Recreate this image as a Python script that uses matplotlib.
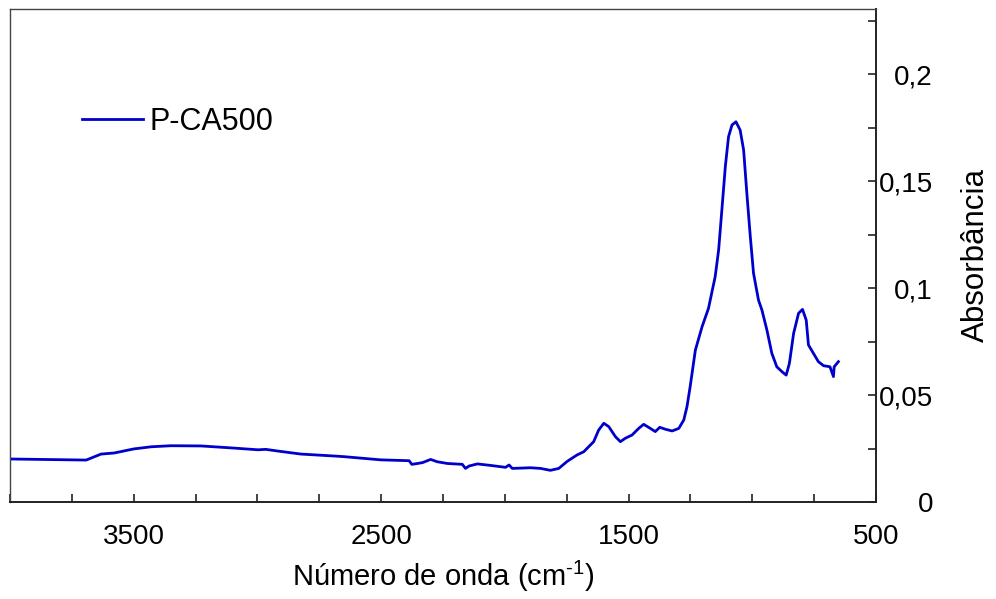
import matplotlib
matplotlib.use("Agg")
import matplotlib.pyplot as plt
from matplotlib.ticker import MultipleLocator

plt.rcParams['font.family'] = ['Liberation Sans', 'DejaVu Sans']
plt.rcParams['mathtext.fontset'] = 'custom'
plt.rcParams['mathtext.rm'] = 'Liberation Sans'
plt.rcParams['mathtext.default'] = 'regular'

# spectrum (wavenumber cm-1, absorbance)
wavenumber = [4000, 3692, 3632, 3579, 3500, 3430, 3349, 3228, 3095, 2998, 2966, 2917,
              2824, 2691, 2651, 2502, 2387, 2376, 2353, 2333, 2300, 2273, 2232, 2172,
              2159, 2145, 2111, 2058, 1997, 1983, 1970, 1896, 1856, 1816, 1782, 1748,
              1708, 1681, 1641, 1621, 1600, 1580, 1553, 1533, 1513, 1486, 1459, 1439,
              1412, 1392, 1374, 1351, 1324, 1297, 1277, 1264, 1251, 1230, 1203, 1177,
              1150, 1136, 1123, 1109, 1096, 1082, 1066, 1049, 1035, 1022, 1008, 995,
              975, 961, 941, 921, 901, 880, 863, 850, 833, 813, 797, 782, 773, 753,
              733, 712, 686, 672, 669, 652]
absorb = [0.0201, 0.0196, 0.0224, 0.0229, 0.0248, 0.0258, 0.0263, 0.0262, 0.0252, 0.0244,
          0.0246, 0.0238, 0.0224, 0.0215, 0.0212, 0.0197, 0.0193, 0.0176, 0.0180, 0.0184,
          0.0199, 0.0188, 0.0180, 0.0176, 0.0157, 0.0168, 0.0178, 0.0171, 0.0162, 0.0173,
          0.0157, 0.0160, 0.0157, 0.0148, 0.0157, 0.0190, 0.0220, 0.0235, 0.0282, 0.0336,
          0.0368, 0.0352, 0.0305, 0.0282, 0.0298, 0.0313, 0.0344, 0.0363, 0.0344, 0.0329,
          0.0349, 0.0340, 0.0332, 0.0344, 0.0383, 0.0445, 0.0540, 0.0710, 0.0819, 0.0905,
          0.1053, 0.1178, 0.1364, 0.1567, 0.1707, 0.1762, 0.1777, 0.1738, 0.1645, 0.1443,
          0.1240, 0.1069, 0.0944, 0.0897, 0.0804, 0.0695, 0.0632, 0.0609, 0.0593, 0.0648,
          0.0788, 0.0882, 0.0900, 0.0850, 0.0734, 0.0695, 0.0656, 0.0637, 0.0632, 0.0586,
          0.0632, 0.0656]
series_name = "P-CA500"
x_major = [3500, 2500, 1500, 500]
y_major = [0, 0.05, 0.1, 0.15, 0.2]
y_labels = ["0", "0,05", "0,1", "0,15", "0,2"]

fig = plt.figure(figsize=(9.96, 5.99), dpi=100)
ax = fig.add_axes([10/996, 1-502/599, 866/996, 493/599])

ax.plot(wavenumber, absorb, color='#0000CC', lw=2.0, label=series_name)

ax.set_xlim(4000, 500)
ax.set_ylim(0, 0.2304)

ax.set_xticks(x_major)
ax.xaxis.set_minor_locator(MultipleLocator(250))
ax.set_yticks(y_major)
ax.set_yticklabels(y_labels)
ax.yaxis.set_minor_locator(MultipleLocator(0.025))

ax.yaxis.tick_right()
ax.yaxis.set_label_position('right')
ax.tick_params(axis='both', which='both', direction='in', length=6, width=1.2, color='#222')
ax.tick_params(axis='x', which='both', top=False, pad=16, labelsize=20)
ax.tick_params(axis='y', which='both', left=False, pad=41, labelsize=20)
for lab in ax.get_yticklabels():
    lab.set_horizontalalignment('right')

for side in ['top', 'left']:
    ax.spines[side].set_color('#444')
    ax.spines[side].set_linewidth(1.0)
for side in ['bottom', 'right']:
    ax.spines[side].set_color('#222')
    ax.spines[side].set_linewidth(1.4)

ax.set_xlabel("Número de onda (cm$^{\\text{-}1}$)", fontsize=21, labelpad=6)
ax.set_ylabel("Absorbância", fontsize=22.5, labelpad=20)

ax.legend(loc='center left', bbox_to_anchor=((82-10)/866, (502-122)/493), frameon=False,
          fontsize=22, handlelength=2.0, handletextpad=0.2, borderpad=0, borderaxespad=0)

fig.savefig("out.png", dpi=100)
